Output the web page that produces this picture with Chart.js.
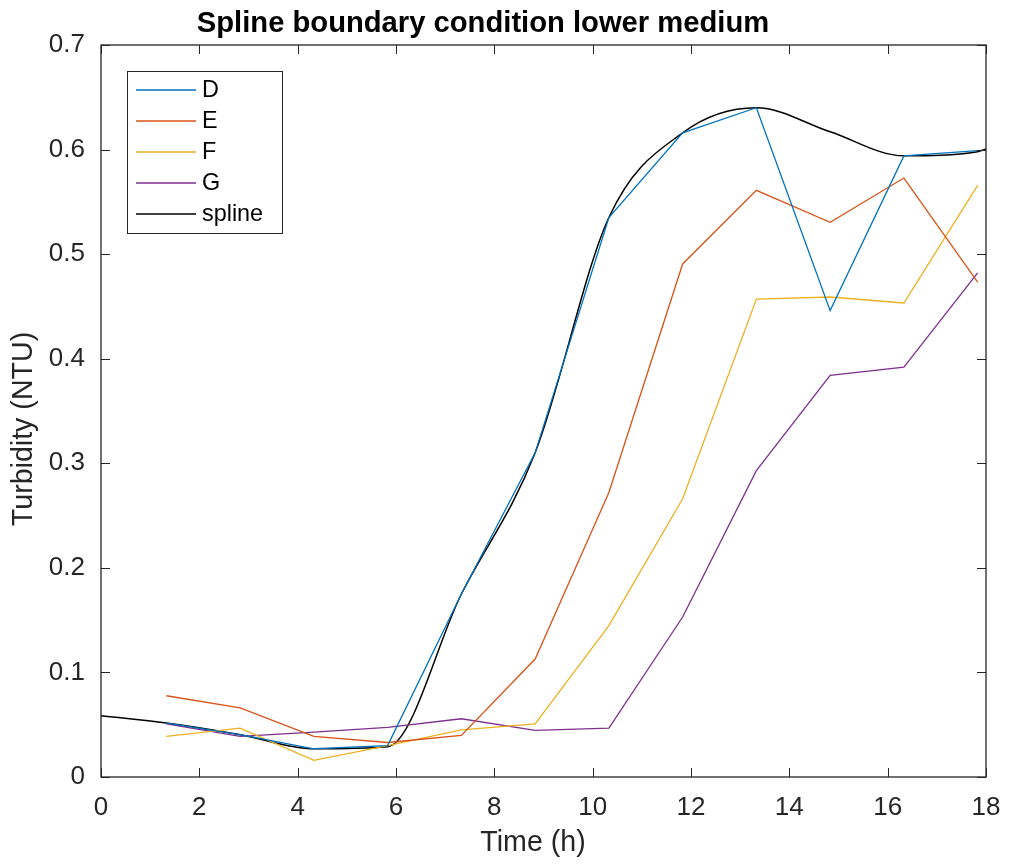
<!DOCTYPE html>
<html>
<head>
<meta charset="utf-8">
<script src="https://cdn.jsdelivr.net/npm/chart.js@4"></script>
<style>
  html, body { margin: 0; padding: 0; background: #fff; }
  #wrap { width: 1011px; height: 864px; }
</style>
</head>
<body>
<div id="wrap"><canvas id="chart" width="1011" height="864"></canvas></div>
<script>
// sample times (h)
const timeH = [1.33, 2.83, 4.33, 5.83, 7.33, 8.83, 10.33, 11.83, 13.33, 14.83, 16.33, 17.83];

// turbidity readings (NTU) per run
const seriesD = [0.0516, 0.0405, 0.027, 0.030, 0.175, 0.310, 0.535, 0.616, 0.640, 0.446, 0.594, 0.599];
const seriesE = [0.0777, 0.066, 0.0388, 0.033, 0.0398, 0.1128, 0.272, 0.4906, 0.561, 0.5304, 0.5728, 0.4733];
const seriesF = [0.0388, 0.0468, 0.0159, 0.030, 0.045, 0.0507, 0.1447, 0.266, 0.457, 0.459, 0.4533, 0.5657];
const seriesG = [0.0507, 0.0388, 0.043, 0.0474, 0.0557, 0.0446, 0.0468, 0.153, 0.293, 0.384, 0.392, 0.482];

// spline knots
const splineT = [0, 1.33, 2.83, 4.33, 5.83, 7.33, 8.83, 10.33, 11.83, 13.33, 14.83, 16.33, 17.83, 18];
const splineY = [0.0586, 0.0516, 0.0405, 0.027, 0.029, 0.175, 0.310, 0.535, 0.616, 0.640, 0.617, 0.594, 0.598, 0.6005];

const xTicks = [0, 2, 4, 6, 8, 10, 12, 14, 16, 18];
const yTicks = [0, 0.1, 0.2, 0.3, 0.4, 0.5, 0.6, 0.7];

const FONT = "'Liberation Sans', Arial, Helvetica, sans-serif";
const AXIS_COLOR = '#262626';

function toPoints(xs, ys) {
    return xs.map((x, i) => ({ x: x, y: ys[i] }));
}

function lineSet(label, xs, ys, color, width) {
    return {
        label: label,
        data: toPoints(xs, ys),
        borderColor: color,
        backgroundColor: color,
        borderWidth: width,
        pointRadius: 0,
        fill: false,
        tension: 0
    };
}

// matlab style box, inward ticks, titles and legend
const matlabAxes = {
    id: 'matlabAxes',
    afterDraw(chart) {
        const ctx = chart.ctx;
        const area = chart.chartArea;
        const xs = chart.scales.x;
        const ys = chart.scales.y;
        const tl = 9;

        ctx.save();
        ctx.strokeStyle = AXIS_COLOR;
        ctx.lineWidth = 1.3;
        ctx.strokeRect(area.left, area.top, area.right - area.left, area.bottom - area.top);

        ctx.lineWidth = 1;
        ctx.beginPath();
        xTicks.forEach(v => {
            const px = Math.round(xs.getPixelForValue(v)) + 0.5;
            ctx.moveTo(px, area.bottom); ctx.lineTo(px, area.bottom - tl);
            ctx.moveTo(px, area.top); ctx.lineTo(px, area.top + tl);
        });
        yTicks.forEach(v => {
            const py = Math.round(ys.getPixelForValue(v)) + 0.5;
            ctx.moveTo(area.left, py); ctx.lineTo(area.left + tl, py);
            ctx.moveTo(area.right, py); ctx.lineTo(area.right - tl, py);
        });
        ctx.stroke();

        // title
        ctx.fillStyle = '#000';
        ctx.font = 'bold 29.2px ' + FONT;
        ctx.textAlign = 'center';
        ctx.textBaseline = 'middle';
        ctx.fillText('Spline boundary condition lower medium', 483, 24);

        // axis labels
        ctx.fillStyle = AXIS_COLOR;
        ctx.font = '28.6px ' + FONT;
        ctx.fillText('Time (h)', 533, 843);
        ctx.save();
        ctx.translate(24, 429);
        ctx.rotate(-Math.PI / 2);
        ctx.fillText('Turbidity (NTU)', 0, 0);
        ctx.restore();

        // legend box
        const lx = 127, ly = 71, lw = 155, lh = 162;
        ctx.fillStyle = '#fff';
        ctx.fillRect(lx, ly, lw, lh);
        ctx.strokeStyle = AXIS_COLOR;
        ctx.lineWidth = 1;
        ctx.strokeRect(lx + 0.5, ly + 0.5, lw, lh);

        ctx.font = '23.4px ' + FONT;
        ctx.textAlign = 'left';
        ctx.textBaseline = 'middle';
        chart.data.datasets.forEach((ds, i) => {
            const ry = 90 + i * 31;
            ctx.strokeStyle = ds.borderColor;
            ctx.lineWidth = ds.borderWidth;
            ctx.beginPath();
            ctx.moveTo(136, ry);
            ctx.lineTo(196, ry);
            ctx.stroke();
            ctx.fillStyle = '#000';
            ctx.fillText(ds.label, 202, ry + 1);
        });
        ctx.restore();
    }
};

const splineSet = lineSet('spline', splineT, splineY, '#000000', 1.5);
splineSet.cubicInterpolationMode = 'monotone';

new Chart(document.getElementById('chart'), {
    type: 'line',
    data: {
        datasets: [
            lineSet('D', timeH, seriesD, '#0072BD', 1.3),
            lineSet('E', timeH, seriesE, '#D95319', 1.3),
            lineSet('F', timeH, seriesF, '#EDB120', 1.3),
            lineSet('G', timeH, seriesG, '#7E2F8E', 1.3),
            splineSet
        ]
    },
    options: {
        responsive: false,
        animation: false,
        layout: { padding: { top: 45, right: 25, left: 0, bottom: 0 } },
        plugins: {
            legend: { display: false },
            title: { display: false },
            tooltip: { enabled: false }
        },
        scales: {
            x: {
                type: 'linear',
                min: 0, max: 18,
                afterFit: s => {
                    s.height = 87;
                    s.paddingLeft = 0;
                    s.paddingRight = 0;
                },
                afterBuildTicks: s => { s.ticks = xTicks.map(v => ({ value: v })); },
                grid: { display: false, drawTicks: false },
                border: { display: false },
                ticks: {
                    color: AXIS_COLOR,
                    font: { family: FONT, size: 26 },
                    padding: 15,
                    maxRotation: 0,
                    callback: v => String(v)
                }
            },
            y: {
                min: 0, max: 0.7,
                afterFit: s => {
                    s.width = 101;
                    s.paddingTop = 0;
                    s.paddingBottom = 0;
                },
                afterBuildTicks: s => { s.ticks = yTicks.map(v => ({ value: v })); },
                grid: { display: false, drawTicks: false },
                border: { display: false },
                ticks: {
                    color: AXIS_COLOR,
                    font: { family: FONT, size: 26 },
                    padding: 16,
                    callback: v => String(Math.round(v * 10) / 10)
                }
            }
        }
    },
    plugins: [matlabAxes]
});
</script>
</body>
</html>
